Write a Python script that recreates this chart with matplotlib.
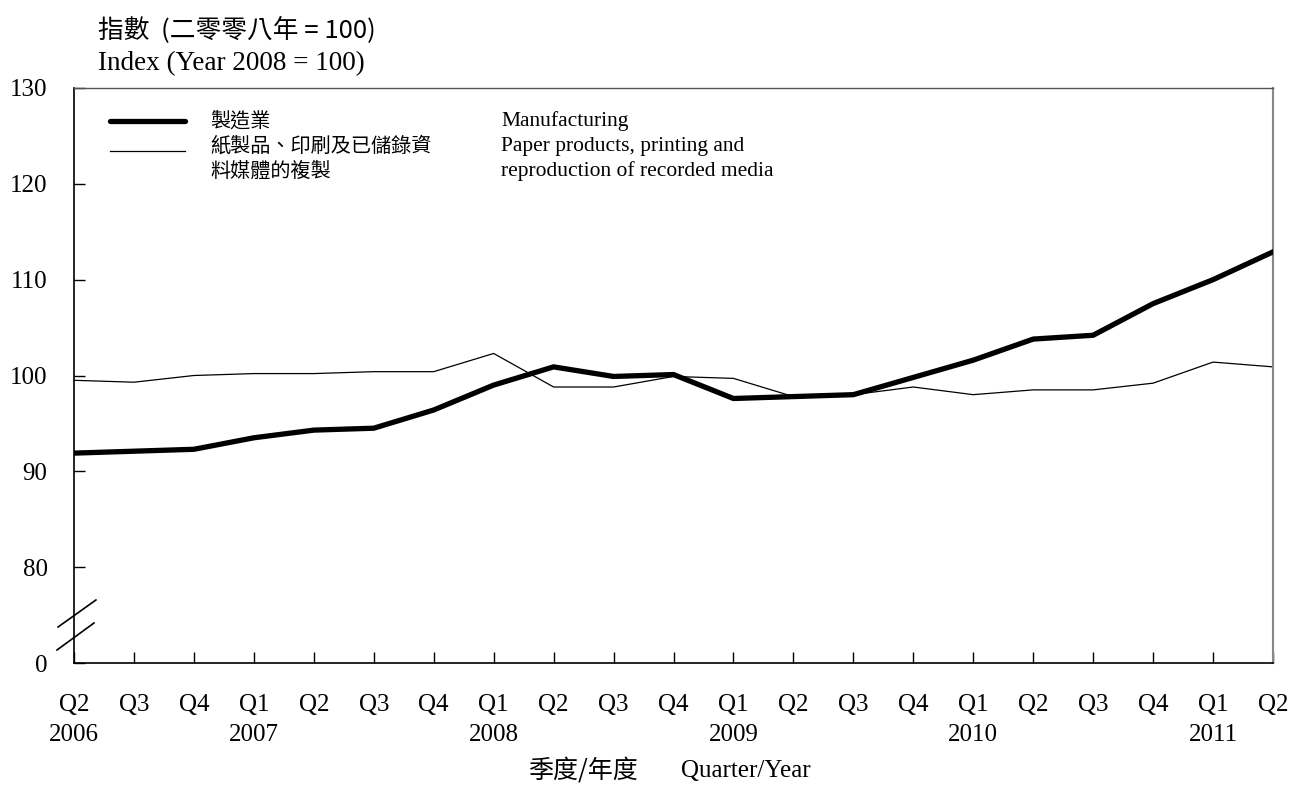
import matplotlib
matplotlib.use("Agg")
import matplotlib.pyplot as plt
from matplotlib.lines import Line2D

quarters = ["Q2", "Q3", "Q4", "Q1", "Q2", "Q3", "Q4", "Q1", "Q2", "Q3", "Q4",
            "Q1", "Q2", "Q3", "Q4", "Q1", "Q2", "Q3", "Q4", "Q1", "Q2"]
years = ["2006", "", "", "2007", "", "", "", "2008", "", "", "",
         "2009", "", "", "", "2010", "", "", "", "2011", ""]
manufacturing = [91.9, 92.1, 92.3, 93.5, 94.3, 94.5, 96.4, 99.0, 100.9, 99.9, 100.1,
                 97.6, 97.8, 98.0, 99.8, 101.6, 103.8, 104.2, 107.5, 110.0, 112.9]
paper = [99.5, 99.3, 100.0, 100.2, 100.2, 100.4, 100.4, 102.3, 98.8, 98.8, 99.9,
         99.7, 97.8, 98.0, 98.8, 98.0, 98.5, 98.5, 99.2, 101.4, 100.9]
y_ticks = [70, 80, 90, 100, 110, 120, 130]
y_tick_labels = ["0", "80", "90", "100", "110", "120", "130"]

serif = ["Liberation Serif", "Noto Sans CJK TC", "DejaVu Sans"]
cjk = ["Noto Sans CJK TC", "Liberation Serif", "DejaVu Sans"]
plt.rcParams["font.family"] = serif

fig = plt.figure(figsize=(12.92, 7.85), dpi=100)
ax = fig.add_axes([74 / 1292, 1 - 663 / 785, 1199 / 1292, 575 / 785])

x = list(range(len(quarters)))
ax.plot(x, manufacturing, color="black", lw=3.8, solid_joinstyle="miter", zorder=3)
ax.plot(x, paper, color="black", lw=0.9, zorder=2)

ax.set_xlim(0, len(quarters) - 1)
ax.set_ylim(70, 130)
ax.set_yticks(y_ticks)
ax.set_yticklabels(y_tick_labels, fontsize=18)
ax.set_xticks(x)
ax.set_xticklabels([q + "\n" + y if y else q + "\n " for q, y in zip(quarters, years)],
                   fontsize=18, linespacing=1.5)
ax.tick_params(axis="both", direction="in", length=8, width=1, colors="black")
ax.tick_params(axis="x", pad=22)
ax.tick_params(axis="y", pad=19)
for s in ["left", "bottom"]:
    ax.spines[s].set_linewidth(1.2)
    ax.spines[s].set_color("black")
ax.spines["top"].set_color("#555555")
ax.spines["right"].set_color("#888888")
ax.spines["top"].set_linewidth(1.0)
ax.spines["right"].set_linewidth(1.5)

# axis break marks
for (x0, y0, x1, y1) in [(-0.0133, 0.0626, 0.0183, 0.1096), (-0.0142, 0.0226, 0.0167, 0.0696)]:
    ax.add_line(Line2D([x0, x1], [y0, y1], transform=ax.transAxes, color="black",
                       lw=1.2, clip_on=False))

# titles
fig.text(98 / 1292, 1 - 30 / 785, "指數  (二零零八年 = 100)", fontsize=18.5,
         family=cjk, va="center", ha="left")
fig.text(98 / 1292, 1 - 64 / 785, "Index (Year 2008 = 100)", fontsize=19.5,
         family=serif, va="center", ha="left")

# legend
fig.add_artist(Line2D([110 / 1292, 185 / 1292], [1 - 121 / 785] * 2, color="black",
                      lw=3.8, solid_capstyle="round"))
fig.add_artist(Line2D([110 / 1292, 185 / 1292], [1 - 151 / 785] * 2, color="black", lw=0.9))
for yy, t in [(121, "製造業"), (146, "紙製品、印刷及已儲錄資"), (171, "料媒體的複製")]:
    fig.text(210 / 1292, 1 - yy / 785, t, fontsize=14.5, family=cjk, va="center", ha="left")
for yy, t in [(121, "Manufacturing"), (146, "Paper products, printing and"),
              (171, "reproduction of recorded media")]:
    fig.text(501 / 1292, 1 - yy / 785, t, fontsize=15.5, family=serif, va="center", ha="left")

# x label
fig.text(638 / 1292, 1 - 771 / 785, "季度/年度", fontsize=18, family=cjk, va="center", ha="right")
fig.text(681 / 1292, 1 - 771 / 785, "Quarter/Year", fontsize=18, family=serif, va="center", ha="left")

fig.savefig("out.png", dpi=100, facecolor="white")
